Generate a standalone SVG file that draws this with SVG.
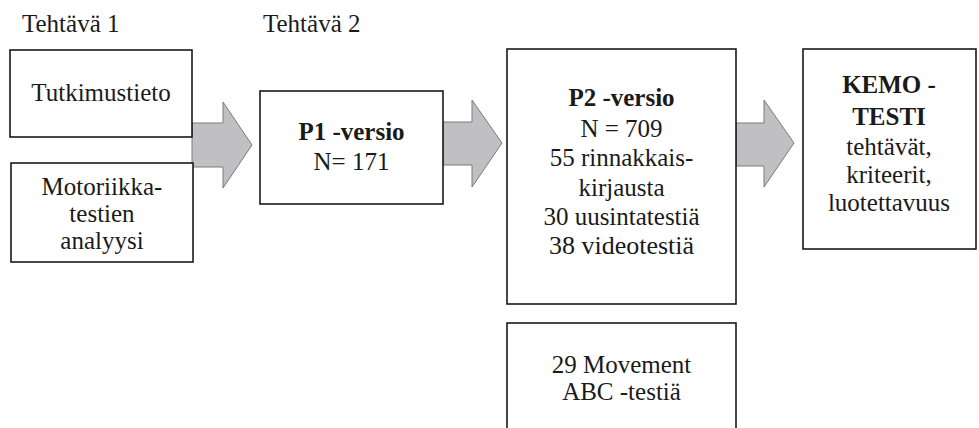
<svg xmlns="http://www.w3.org/2000/svg" width="979" height="428" viewBox="0 0 979 428">
<style>
text{font-family:"Liberation Serif","Times New Roman",serif;font-size:25px;fill:#1a1a1a;text-anchor:middle}
.b{font-weight:bold}
.l{text-anchor:start}
.box{fill:#fff;stroke:#1a1a1a;stroke-width:1.6}
.arr{fill:#c0c0c2;stroke:#7a7a7a;stroke-width:1}
</style>
<rect width="979" height="428" fill="#fff"/>
<text class="l" x="22" y="32">Tehtävä 1</text>
<text class="l" x="263" y="32">Tehtävä 2</text>
<g id="connectors">
<polygon class="arr" points="192,123 223,123 223,102 252,145 223,188 223,167 192,167"/>
<polygon class="arr" points="443,122 472,122 472,100 502,143 472,187 472,165 443,165"/>
<polygon class="arr" points="736,123 764,123 764,100 794,143 764,187 764,166 736,166"/>
</g>
<g id="tutkimustieto">
<rect class="box" x="10" y="50" width="182" height="87"/>
<text x="101" y="101">Tutkimustieto</text>
</g>
<g id="motoriikka">
<rect class="box" x="11" y="163" width="182" height="99"/>
<text x="102" y="195">Motoriikka-</text>
<text x="102" y="222">testien</text>
<text x="102" y="249">analyysi</text>
</g>
<g id="p1">
<rect class="box" x="260" y="91" width="183" height="113"/>
<text class="b" x="351.5" y="140">P1 -versio</text>
<text x="351.5" y="170">N= 171</text>
</g>
<g id="p2">
<rect class="box" x="507" y="49" width="229" height="255"/>
<text class="b" x="621.5" y="106">P2 -versio</text>
<text x="621.5" y="137">N = 709</text>
<text x="621.5" y="166">55 rinnakkais-</text>
<text x="621.5" y="196">kirjausta</text>
<text x="621.5" y="225">30 uusintatestiä</text>
<text x="621.5" y="254" style="font-size:26px">38 videotestiä</text>
</g>
<g id="movement">
<rect class="box" x="507" y="323" width="229" height="120"/>
<text x="621.5" y="373">29 Movement</text>
<text x="621.5" y="400">ABC -testiä</text>
</g>
<g id="kemo">
<rect class="box" x="803" y="49" width="173" height="200"/>
<text class="b" x="889" y="93">KEMO -</text>
<text class="b" x="889" y="125">TESTI</text>
<text x="889" y="155">tehtävät,</text>
<text x="889" y="183">kriteerit,</text>
<text x="889" y="211">luotettavuus</text>
</g>
</svg>
